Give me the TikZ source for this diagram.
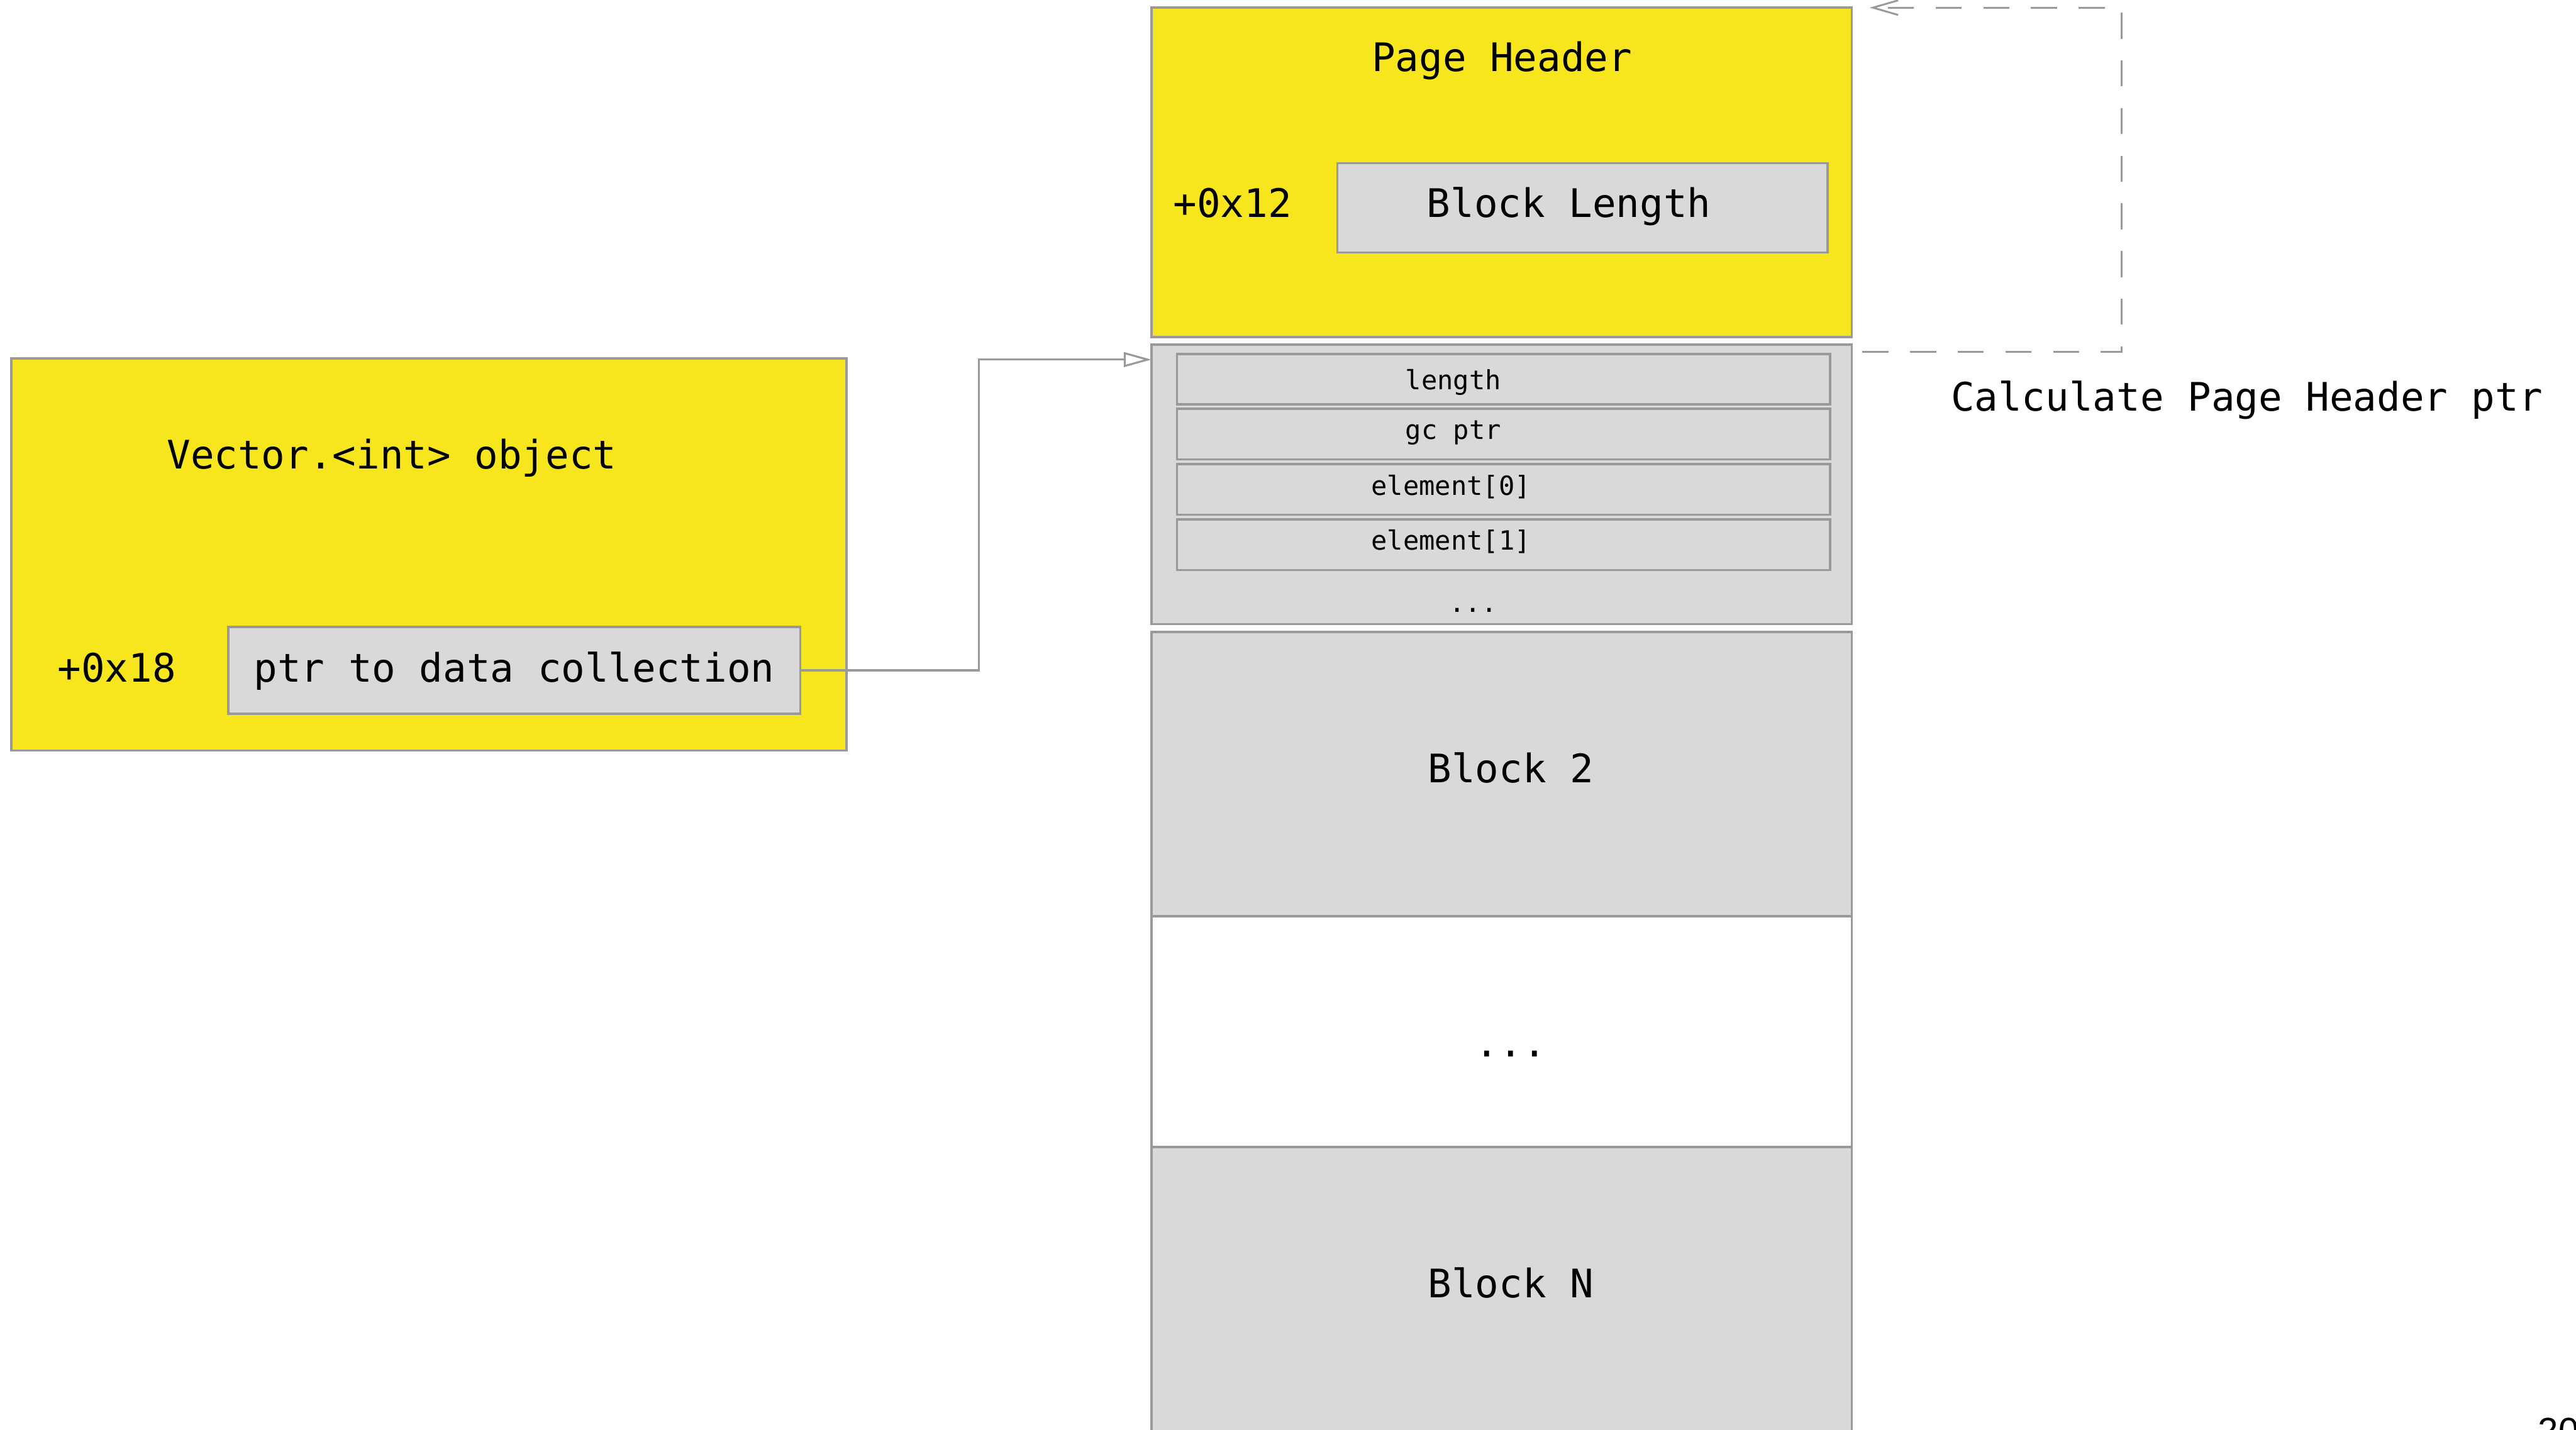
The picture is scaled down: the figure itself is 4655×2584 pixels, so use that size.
\documentclass[tikz,border=0pt]{standalone}
\usepackage{fontspec}
\setmainfont{DejaVu Sans Mono}
\newfontfamily\pagenofont{Liberation Sans}
\usetikzlibrary{arrows.meta,calc}

\definecolor{hdryellow}{HTML}{F7E61E}
\definecolor{cellgrey}{HTML}{D9D9D9}
\definecolor{edgegrey}{HTML}{999999}

\tikzset{
  region/.style={draw=edgegrey, line width=1.15pt, inner sep=0pt, outer sep=0pt},
  yellowbox/.style={region, fill=hdryellow},
  greybox/.style={region, fill=cellgrey},
  whitebox/.style={region, fill=white},
  bigtxt/.style={anchor=base, inner sep=0pt, font=\fontsize{20.2pt}{24pt}\selectfont},
  smalltxt/.style={anchor=base, inner sep=0pt, font=\fontsize{13.6pt}{16pt}\selectfont},
  conn/.style={draw=edgegrey, line width=1pt, -{Triangle[open, length=14.2pt, width=7.6pt, line width=1pt]}},
  backlink/.style={draw=edgegrey, line width=0.95pt, dash pattern=on 13.4pt off 11.1pt,
    -{Straight Barb[length=13pt, width=7.5pt, line width=0.95pt]}},
}

\begin{document}
\begin{tikzpicture}[x=0.01cm, y=-0.01cm]
  \useasboundingbox (0,0) rectangle (4655,2584);
  \fill[white] (0,0) rectangle (4655,2584);
  \clip (0,0) rectangle (4655,2584);

  % ---- object on the left ----
  \node[yellowbox, minimum width=15.08cm, minimum height=7.08cm] (vec) at (775,1002) {};
  \node[bigtxt] (vectxt) at (708,847) {Vector.<int> object};
  \node[greybox, minimum width=10.33cm, minimum height=1.57cm] (ptr) at (929.5,1211.5) {};
  \node[bigtxt] (ptrtxt) at (929,1233) {ptr to data collection};
  \node[bigtxt] (off18) at (211,1233) {+0x18};

  % ---- page layout column ----
  \node[yellowbox, minimum width=12.65cm, minimum height=5.95cm] (hdr) at (2713.5,311.5) {};
  \node[bigtxt] (hdrtxt) at (2714,129) {Page Header};
  \node[greybox, minimum width=8.85cm, minimum height=1.61cm] (blen) at (2859.5,375.5) {};
  \node[bigtxt] (blentxt) at (2835,393) {Block Length};
  \node[bigtxt] (off12) at (2227,393) {+0x12};

  \node[greybox, minimum width=12.65cm, minimum height=5.05cm] (blk1) at (2713.5,875.5) {};
  \node[greybox, minimum width=11.80cm, minimum height=0.91cm] (f1) at (2717,685.5) {};
  \node[greybox, minimum width=11.80cm, minimum height=0.91cm] (f2) at (2717,784.5) {};
  \node[greybox, minimum width=11.80cm, minimum height=0.91cm] (f3) at (2717,884.5) {};
  \node[greybox, minimum width=11.80cm, minimum height=0.91cm] (f4) at (2717,984.5) {};
  \node[smalltxt] (f1txt) at (2626,704) {length};
  \node[smalltxt] (f2txt) at (2626,794) {gc ptr};
  \node[smalltxt] (f3txt) at (2622,895) {element[0]};
  \node[smalltxt] (f4txt) at (2622,994) {element[1]};
  \node[smalltxt] (f5txt) at (2662,1106) {...};

  \node[greybox, minimum width=12.65cm, minimum height=5.14cm] (blk2) at (2713.5,1399) {};
  \node[bigtxt] (blk2txt) at (2730,1414) {Block 2};
  \node[whitebox, minimum width=12.65cm, minimum height=4.17cm] (gap) at (2713.5,1864.5) {};
  \node[bigtxt] (gaptxt) at (2730,1910) {...};
  \node[greybox, minimum width=12.65cm, minimum height=5.67cm] (blkN) at (2713.5,2356.5) {};
  \node[bigtxt] (blkNtxt) at (2730,2345) {Block N};

  % ---- connectors ----
  \coordinate (tgt) at ($(blk1.north west)+(0,27)$);
  \draw[conn] (ptr.east) -- ++(323,0) |- (tgt);

  \coordinate (dstart) at ($(blk1.north east)+(19,13)$);
  \coordinate (dcorner) at ($(hdr.north east)+(487,0)$);
  \coordinate (dend) at ($(hdr.north east)+(32,0)$);
  \draw[backlink] (dstart) -| (dcorner) -- (dend);
  \node[bigtxt] (calc) at (4060,743) {Calculate Page Header ptr};

  % ---- page number ----
  \node[anchor=north west, inner sep=0pt, font=\pagenofont\fontsize{18.8pt}{22pt}\selectfont] (pgno) at (4586,2562) {20};
\end{tikzpicture}
\end{document}
